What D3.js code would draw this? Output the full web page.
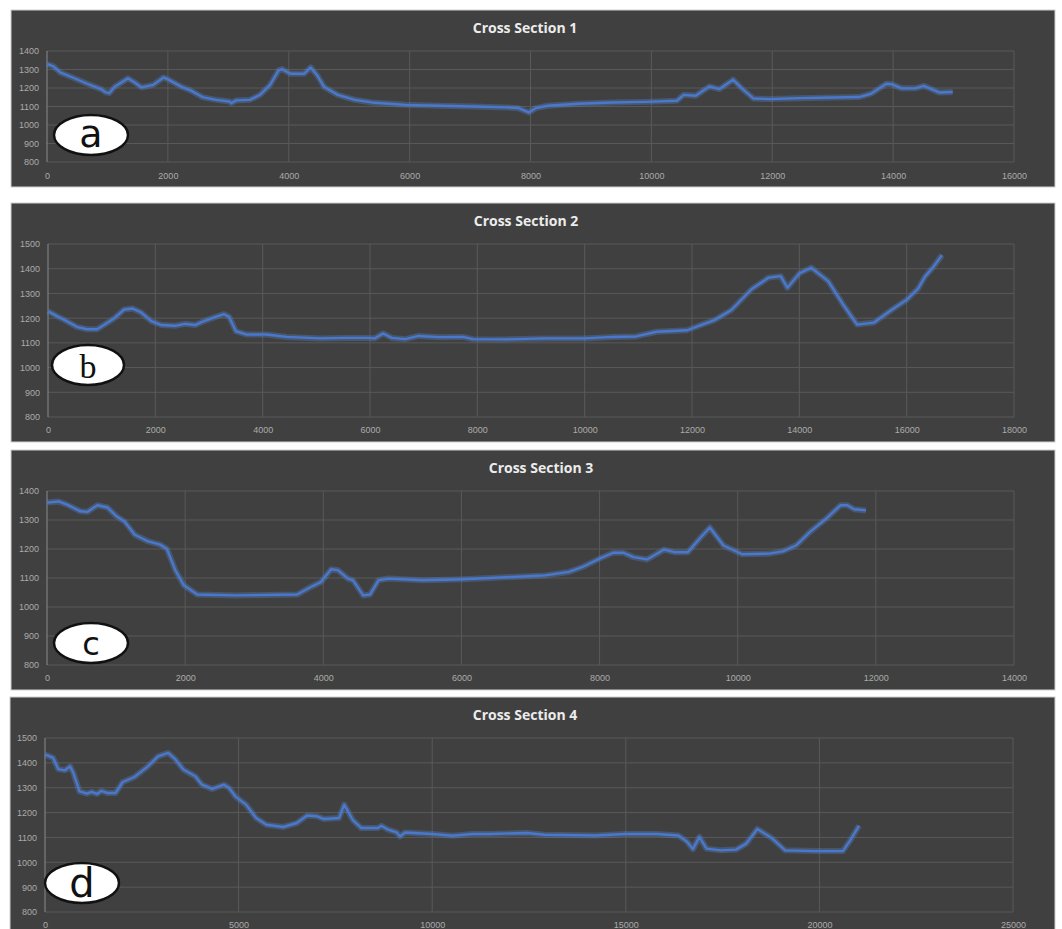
<!DOCTYPE html>
<html><head><meta charset="utf-8">
<script src="https://cdn.jsdelivr.net/npm/d3@7"></script>
<style>body{margin:0;background:#fff}</style>
</head><body><svg id="c" width="1062" height="929"></svg>
<script>
// ---------- DATA ----------
const titles = ["Cross Section 1", "Cross Section 2", "Cross Section 3", "Cross Section 4"];
const badgeLetters = ["a", "b", "c", "d"];

const section1X = [0,106,218,443,667,891,975,1031,1115,1339,1451,1563,1759,1927,2011,2235,2375,2571,2796,3020,3048,3132,3356,3524,3692,3832,3888,4028,4252,4364,4476,4588,4812,5092,5373,5933,6493,7053,7613,7803,7972,8085,8282,8789,9352,9915,10423,10535,10732,10958,11127,11352,11493,11690,11944,12451,13014,13437,13634,13887,13972,14141,14366,14507,14761,14986];
const section1Y = [1330,1317,1284,1254,1223,1194,1176,1172,1205,1252,1230,1203,1217,1257,1245,1205,1187,1151,1136,1127,1118,1133,1136,1163,1217,1295,1302,1277,1277,1311,1266,1205,1163,1136,1122,1109,1104,1100,1095,1091,1068,1091,1104,1115,1122,1125,1131,1163,1158,1208,1194,1245,1199,1143,1140,1145,1149,1151,1169,1223,1221,1198,1198,1212,1176,1178];

const section2X = [0,158,347,536,726,915,1041,1230,1420,1577,1735,1924,2114,2366,2555,2744,2871,3123,3281,3375,3502,3691,4069,4448,5079,5521,5962,6088,6246,6404,6656,6909,7287,7729,7918,8549,9253,10000,10519,10962,11342,11911,12165,12418,12734,13114,13430,13652,13778,14000,14222,14538,14823,15076,15392,15709,15994,16215,16342,16500,16658];
const section2Y = [1228,1209,1188,1165,1155,1155,1172,1199,1235,1239,1223,1188,1172,1169,1177,1172,1185,1205,1216,1205,1147,1134,1134,1124,1118,1120,1120,1118,1138,1120,1115,1128,1123,1124,1115,1114,1118,1118,1124,1126,1145,1151,1172,1192,1233,1318,1364,1370,1323,1381,1404,1350,1253,1174,1182,1232,1273,1320,1368,1408,1455];

const section3X = [0,167,289,485,583,730,877,1000,1123,1270,1466,1637,1735,1858,1980,2176,2740,3622,3819,3966,4113,4211,4358,4431,4578,4677,4799,4946,5436,5926,6417,6956,7214,7558,7754,8000,8197,8344,8491,8688,8934,9081,9278,9450,9597,9794,10064,10457,10654,10850,11047,11292,11489,11587,11686,11858];
const section3Y = [1360,1364,1353,1330,1328,1351,1343,1314,1295,1249,1226,1215,1201,1127,1075,1043,1040,1043,1069,1086,1130,1127,1098,1092,1040,1043,1092,1098,1092,1095,1100,1106,1109,1121,1138,1167,1187,1187,1172,1164,1198,1189,1189,1236,1274,1212,1182,1184,1192,1213,1259,1307,1351,1351,1337,1333];

const section4X = [0,122,210,341,516,647,734,892,1000,1084,1200,1346,1450,1608,1827,2002,2308,2657,2919,3182,3357,3575,3881,4056,4318,4624,4755,4930,5192,5454,5717,6154,6503,6766,7028,7203,7596,7727,7946,8164,8601,8689,8863,9082,9170,9300,10000,10524,11049,11486,12447,12898,14212,15000,15788,16357,16576,16734,16900,17084,17452,17846,18109,18398,18766,19116,19904,20605,20780,21025];
const section4Y = [1433,1426,1420,1375,1370,1386,1359,1285,1280,1276,1283,1275,1287,1279,1279,1322,1343,1386,1426,1440,1416,1373,1346,1312,1295,1312,1299,1263,1232,1178,1151,1142,1158,1188,1185,1174,1178,1232,1171,1138,1138,1147,1131,1120,1104,1120,1114,1107,1114,1114,1118,1111,1108,1114,1114,1108,1084,1053,1102,1055,1048,1051,1075,1134,1098,1048,1045,1045,1084,1147];

const xTicks1 = [0,2000,4000,6000,8000,10000,12000,14000,16000];
const yTicks1 = [800,900,1000,1100,1200,1300,1400];
const xTicks2 = [0,2000,4000,6000,8000,10000,12000,14000,16000,18000];
const yTicks2 = [800,900,1000,1100,1200,1300,1400,1500];
const xTicks3 = [0,2000,4000,6000,8000,10000,12000,14000];
const yTicks3 = [800,900,1000,1100,1200,1300,1400];
const xTicks4 = [0,5000,10000,15000,20000,25000];
const yTicks4 = [800,900,1000,1100,1200,1300,1400,1500];

// ---------- LAYOUT ----------
const panels = [
  {xs: section1X, ys: section1Y, xt: xTicks1, yt: yTicks1,
   bg:[11,10,1044,177], plot:[47,51,1014,162], titleX:525, titleY:29, labY:176,
   badge:{cx:91,cy:135,rx:37,ry:20,fs:38,font:"DejaVu Sans, sans-serif",dy:12}},
  {xs: section2X, ys: section2Y, xt: xTicks2, yt: yTicks2,
   bg:[11,203,1044,239], plot:[48,244,1014,417], titleX:526, titleY:222, labY:430,
   badge:{cx:88,cy:365,rx:36,ry:20,fs:34,font:"Liberation Serif, serif",dy:13}},
  {xs: section3X, ys: section3Y, xt: xTicks3, yt: yTicks3,
   bg:[11,450,1044,240], plot:[47,491,1014,665], titleX:541, titleY:469, labY:678,
   badge:{cx:91,cy:643,rx:37,ry:20,fs:32,font:"DejaVu Sans, sans-serif",dy:12}},
  {xs: section4X, ys: section4Y, xt: xTicks4, yt: yTicks4,
   bg:[10,697,1045,240], plot:[45,738,1013,912], titleX:525, titleY:716, labY:925,
   badge:{cx:82,cy:883,rx:37,ry:20,fs:40,font:"DejaVu Sans, sans-serif",dy:14}}
];

const svg = d3.select("#c");

panels.forEach((p, i) => {
  const g = svg.append("g");
  g.append("rect").attr("x", p.bg[0]).attr("y", p.bg[1]).attr("width", p.bg[2]).attr("height", p.bg[3])
    .attr("fill", "#404040").attr("stroke", "#d0d0d0").attr("stroke-width", 1);

  const [l, t, r, b] = p.plot;
  const x = d3.scaleLinear().domain([p.xt[0], p.xt[p.xt.length-1]]).range([l, r]);
  const y = d3.scaleLinear().domain([p.yt[0], p.yt[p.yt.length-1]]).range([b, t]);

  // grid
  g.append("g").selectAll("line").data(p.yt).join("line")
    .attr("x1", l).attr("x2", r).attr("y1", d => y(d)).attr("y2", d => y(d))
    .attr("stroke", "#595959").attr("stroke-width", 1);
  g.append("g").selectAll("line").data(p.xt.slice(1)).join("line")
    .attr("x1", d => x(d)).attr("x2", d => x(d)).attr("y1", t).attr("y2", b)
    .attr("stroke", "#595959").attr("stroke-width", 1);
  g.append("line").attr("x1", l).attr("x2", l).attr("y1", t).attr("y2", b)
    .attr("stroke", "#8a8a8a").attr("stroke-width", 1);

  // axes labels via d3 axes
  const xa = d3.axisBottom(x).tickValues(p.xt).tickSize(0).tickPadding(0).tickFormat(d3.format("d"));
  const xg = g.append("g").attr("transform", `translate(0,${p.labY})`).call(xa);
  const ya = d3.axisLeft(y).tickValues(p.yt).tickSize(0).tickPadding(0).tickFormat(d3.format("d"));
  const yg = g.append("g").attr("transform", `translate(${l-8},0)`).call(ya);
  [xg, yg].forEach(a => {
    a.select(".domain").remove();
    a.selectAll("text").attr("fill", "#ababab").attr("font-size", 9)
      .attr("font-family", "Liberation Sans, sans-serif");
  });
  xg.selectAll("text").attr("dy", "0.35em").attr("y", 0);

  // title
  g.append("text").attr("x", p.titleX).attr("y", p.titleY).attr("text-anchor", "middle")
    .attr("dominant-baseline", "middle")
    .attr("fill", "#ececec").attr("font-size", 14).attr("font-weight", "bold")
    .attr("font-family", "Open Sans, sans-serif").text(titles[i]);

  // line
  const pts = p.xs.map((v, k) => [v, p.ys[k]]);
  const line = d3.line().x(d => x(d[0])).y(d => y(d[1]));
  g.append("path").datum(pts).attr("d", line).attr("fill", "none")
    .attr("stroke", "#5b8fe0").attr("stroke-opacity", 0.3).attr("stroke-width", 6)
    .attr("stroke-linejoin", "round");
  g.append("path").datum(pts).attr("d", line).attr("fill", "none")
    .attr("stroke", "#4a78cc").attr("stroke-width", 2.4).attr("stroke-linejoin", "round");

  // badge
  const bd = p.badge;
  g.append("ellipse").attr("cx", bd.cx).attr("cy", bd.cy).attr("rx", bd.rx).attr("ry", bd.ry)
    .attr("fill", "#fff").attr("stroke", "#111").attr("stroke-width", 2.5);
  g.append("text").attr("x", bd.cx).attr("y", bd.cy + bd.dy).attr("text-anchor", "middle")
    .attr("font-size", bd.fs).attr("font-family", bd.font).attr("fill", "#111")
    .text(badgeLetters[i]);
});
</script></body></html>
